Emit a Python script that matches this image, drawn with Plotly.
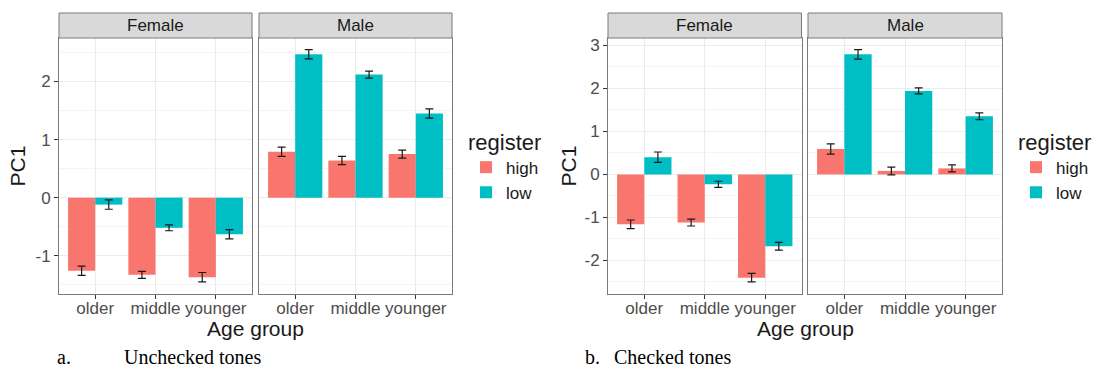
import plotly.graph_objects as go

W, H = 1097, 369

categories = ["older", "middle", "younger"]
registers = ["high", "low"]
colors = {"high": "#F8766D", "low": "#00BFC4"}
facets = ["Female", "Male"]

# Chart a: Unchecked tones
a_female_high = [-1.26, -1.33, -1.37]
a_female_low = [-0.12, -0.52, -0.63]
a_male_high = [0.79, 0.64, 0.75]
a_male_low = [2.47, 2.12, 1.45]
a_female_high_err = [0.08, 0.06, 0.08]
a_female_low_err = [0.08, 0.05, 0.08]
a_male_high_err = [0.08, 0.07, 0.07]
a_male_low_err = [0.08, 0.06, 0.08]

# Chart b: Checked tones
b_female_high = [-1.16, -1.12, -2.40]
b_female_low = [0.40, -0.23, -1.67]
b_male_high = [0.59, 0.08, 0.14]
b_male_low = [2.79, 1.94, 1.35]
b_female_high_err = [0.10, 0.08, 0.10]
b_female_low_err = [0.12, 0.07, 0.09]
b_male_high_err = [0.12, 0.09, 0.08]
b_male_low_err = [0.11, 0.07, 0.08]

a_yticks = [-1, 0, 1, 2]
a_yticktext = ["-1", "0", "1", "2"]
b_yticks = [-2, -1, 0, 1, 2, 3]
b_yticktext = ["-2", "-1", "0", "1", "2", "3"]

captions = [("a.", "Unchecked tones"), ("b.", "Checked tones")]

fig = go.Figure()

def px_x(p):
    return p / W

def px_y(p):
    return 1 - p / H

panels = [
    ("x", "y", 59, 252, a_female_high, a_female_low, a_female_high_err, a_female_low_err, "legend", True, "Female"),
    ("x2", "y2", 259, 452, a_male_high, a_male_low, a_male_high_err, a_male_low_err, "legend", False, "Male"),
    ("x3", "y3", 608, 801.5, b_female_high, b_female_low, b_female_high_err, b_female_low_err, "legend2", True, "Female"),
    ("x4", "y4", 808, 1002, b_male_high, b_male_low, b_male_high_err, b_male_low_err, "legend2", False, "Male"),
]

for xa, ya, x0, x1, hi, lo, hie, loe, leg, sl, facet in panels:
    for reg, vals, errs in (("high", hi, hie), ("low", lo, loe)):
        fig.add_trace(go.Bar(
            x=categories, y=vals, name=reg, xaxis=xa, yaxis=ya,
            marker=dict(color=colors[reg], line=dict(width=0)),
            error_y=dict(type="data", array=errs, color="#1a1a1a", thickness=1.2, width=4),
            legend=leg, showlegend=sl, offsetgroup=reg,
        ))

y0p, y1p = px_y(294), px_y(38)
grid = "#EBEBEB"
border = "#7a7a7a"
tickfont = dict(family="Liberation Sans, Arial", size=17, color="#4D4D4D")

layout = dict(
    width=W, height=H, margin=dict(l=0, r=0, t=0, b=0),
    plot_bgcolor="white", paper_bgcolor="white",
    barmode="group", bargap=0.1, bargroupgap=0,
    font=dict(family="Liberation Sans, Arial", color="#1a1a1a"),
)

for i, (xa, ya, x0, x1, *_rest) in enumerate(panels):
    xn = "xaxis" if xa == "x" else "xaxis" + xa[1:]
    yn = "yaxis" if ya == "y" else "yaxis" + ya[1:]
    layout[xn] = dict(
        domain=[px_x(x0), px_x(x1)], anchor=ya, type="category",
        categoryorder="array", categoryarray=categories,
        range=[-0.6, 2.6], showgrid=True, gridcolor=grid, gridwidth=1,
        ticks="outside", ticklen=4, tickcolor="#333333", tickfont=tickfont,
        ticklabelstandoff=-5,
        showline=True, mirror=True, linecolor=border, linewidth=1,
        zeroline=False, automargin=False, fixedrange=True,
    )
    left_chart = i < 2
    rng = [-1.66, 2.75] if left_chart else [-2.78, 3.17]
    tv = a_yticks if left_chart else b_yticks
    tt = a_yticktext if left_chart else b_yticktext
    first = i in (0, 2)
    yd = dict(
        domain=[y0p, y1p], anchor=xa, range=rng,
        tickvals=tv, ticktext=tt, showticklabels=first,
        ticks="outside" if first else "", ticklen=4, tickcolor="#333333",
        tickfont=tickfont, showgrid=True, gridcolor=grid, gridwidth=1,
        minor=dict(dtick=1, tick0=0.5, showgrid=True, gridcolor="#F4F4F4", gridwidth=0.6),
        showline=True, mirror=True, linecolor=border, linewidth=1,
        zeroline=False, automargin=False, fixedrange=True,
    )
    if first:
        yd["title"] = dict(text="PC1", font=dict(size=21, color="#1a1a1a"),
                           standoff=4 if i == 0 else 2)
    layout[yn] = yd

fig.update_layout(**layout)

legend_common = dict(
    xanchor="left", yanchor="top",
    title=dict(text="register", font=dict(size=22, color="#1a1a1a")),
    font=dict(size=17, color="#1a1a1a"), bgcolor="rgba(0,0,0,0)",
    tracegroupgap=0, itemwidth=30,
)
fig.update_layout(
    legend=dict(x=px_x(466), y=px_y(121), **legend_common),
    legend2=dict(x=px_x(1016), y=px_y(121), **legend_common),
)

# facet strips
for xa, ya, x0, x1, *rest in panels:
    facet = rest[-1]
    fig.add_shape(type="rect", xref="paper", yref="paper",
                  x0=px_x(x0), x1=px_x(x1), y0=px_y(38), y1=px_y(13),
                  fillcolor="#D9D9D9", line=dict(color=border, width=1), layer="above")
    fig.add_annotation(text=facet, xref="paper", yref="paper",
                       x=px_x((x0 + x1) / 2), y=px_y(25.5), showarrow=False,
                       font=dict(size=17, color="#1a1a1a"), xanchor="center", yanchor="middle")

# x-axis titles
for cx in (255.5, 805):
    fig.add_annotation(text="Age group", xref="paper", yref="paper",
                       x=px_x(cx), y=px_y(328), showarrow=False,
                       font=dict(size=21, color="#1a1a1a"), xanchor="center", yanchor="middle")

# captions
for (lab, txt), lx, tx in zip(captions, (55, 583), (122, 612)):
    fig.add_annotation(text=lab, xref="paper", yref="paper", x=px_x(lx), y=px_y(357),
                       showarrow=False, xanchor="left", yanchor="middle",
                       font=dict(family="Liberation Serif, Times New Roman", size=20, color="black"))
    fig.add_annotation(text=txt, xref="paper", yref="paper", x=px_x(tx), y=px_y(357),
                       showarrow=False, xanchor="left", yanchor="middle",
                       font=dict(family="Liberation Serif, Times New Roman", size=20, color="black"))

fig.write_html("out.html")
